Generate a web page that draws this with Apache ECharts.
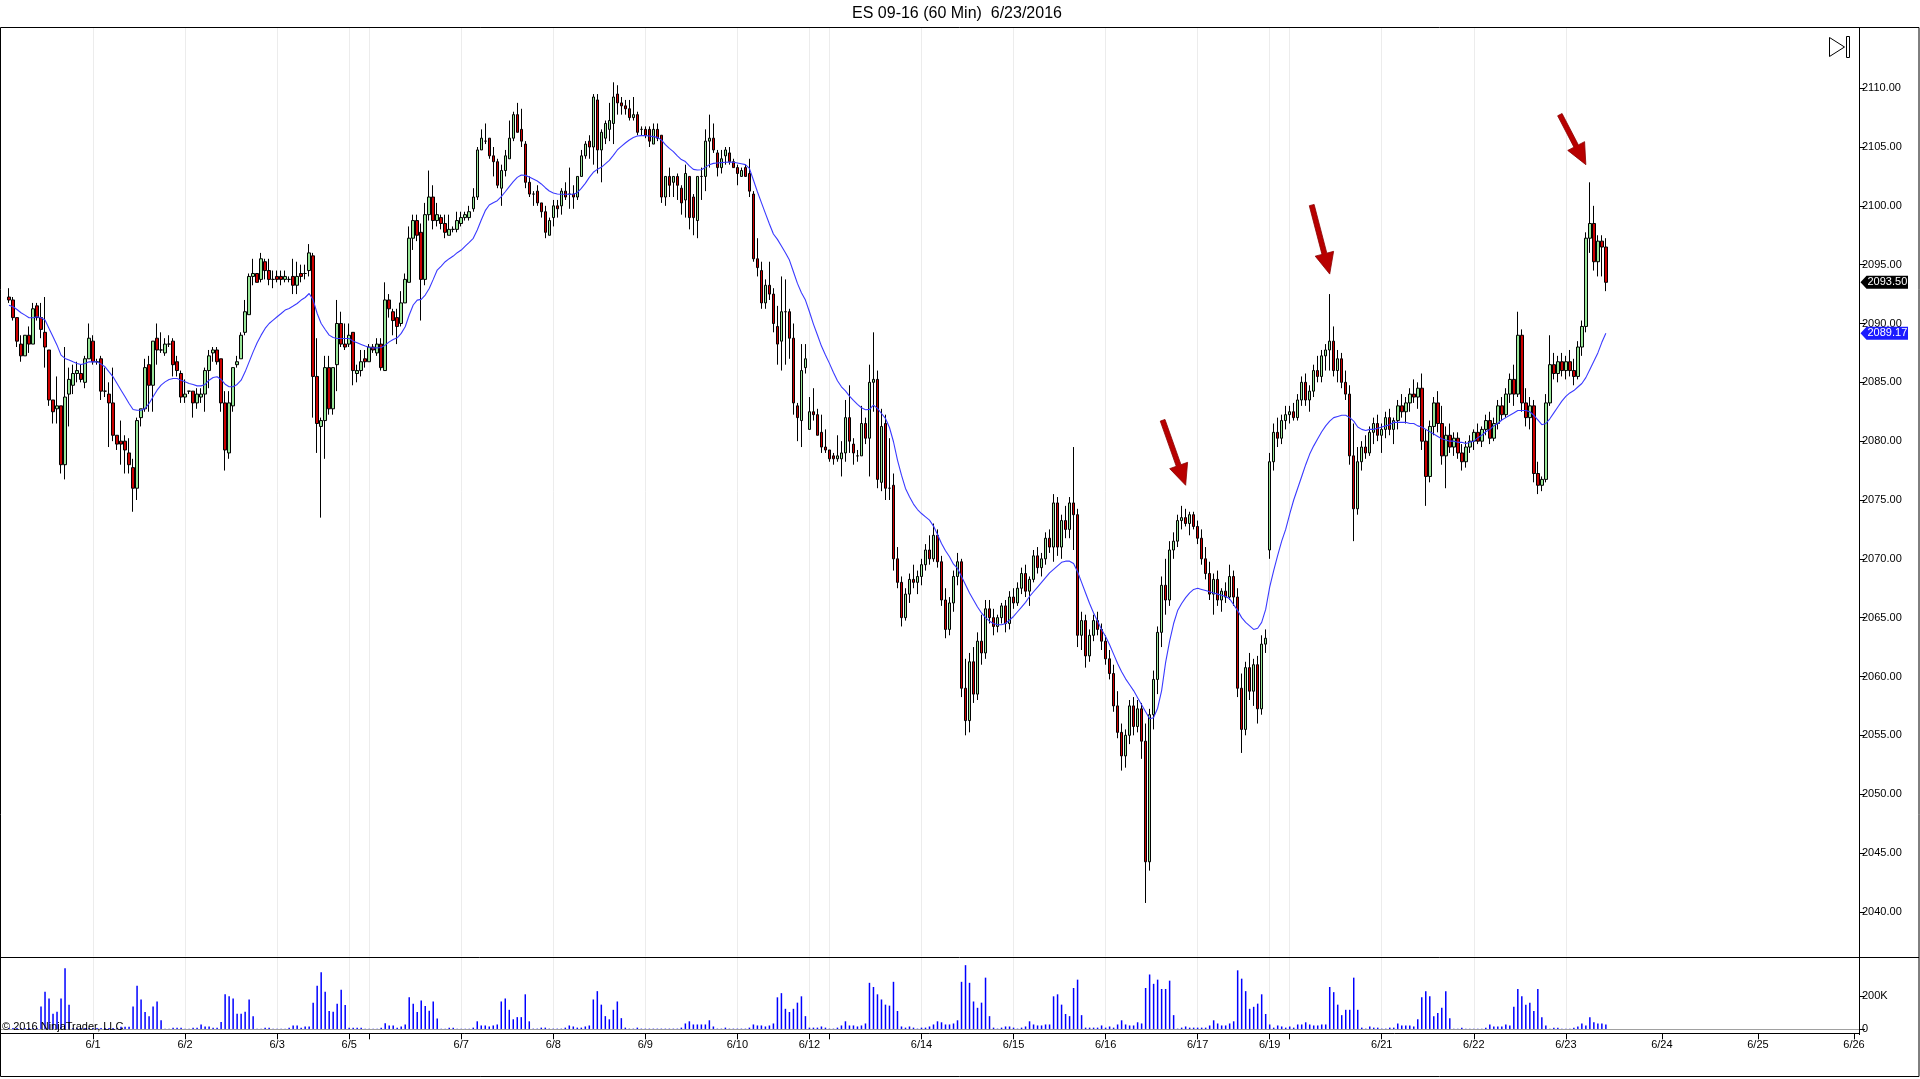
<!DOCTYPE html>
<html><head><meta charset="utf-8">
<script src="https://cdn.jsdelivr.net/npm/echarts@6/dist/echarts.min.js"></script>
<style>html,body{margin:0;padding:0;background:#fff;overflow:hidden}#c{width:1920px;height:1079px}</style>
</head><body><div id="c"></div>
<script>
// ---- categories (hourly slots per day) ----
const dayNames = ['5/31','6/1','6/2','6/3','6/5','6/6','6/7','6/8','6/9','6/10','6/12','6/13','6/14','6/15','6/16','6/17','6/19','6/20','6/21','6/22','6/23','6/24','6/25','6/26'];
const daySlots = [21,23,23,18,5,23,23,23,23,18,5,23,23,23,23,18,5,23,23,23,24,24,24,2];
const labeledDays = ['6/1','6/2','6/3','6/5','6/7','6/8','6/9','6/10','6/12','6/14','6/15','6/16','6/17','6/19','6/21','6/22','6/23','6/24','6/25','6/26'];
const gridDays = ['6/1','6/2','6/3','6/5','6/6','6/7','6/8','6/9','6/10','6/12','6/13','6/14','6/15','6/16','6/17','6/19','6/20','6/21','6/22','6/23'];
const priceTicks = [2040,2045,2050,2055,2060,2065,2070,2075,2080,2085,2090,2095,2100,2105,2110];
const volumeTicks = [0,200000];
const titleText = 'ES 09-16 (60 Min)  6/23/2016';
const lastPrice = 2093.50;
const lastMA = 2089.17;
// annotation arrows: tip at [slot index, price], tail offset in px
const arrowTips = [[294, 2076.25], [330, 2094.2], [394, 2103.5]];
const arrowTails = [[23, 65], [18, 69], [26, 50]];

// ---- OHLC ----
const opens = [
2092.25,2092.0,2090.5,2088.25,2087.25,2089.0,2088.25,2091.5,2090.5,2089.25,
2087.75,2083.5,2082.75,2083.0,2078.0,2084.0,2084.75,2085.75,2085.75,2085.0,
2087.0,2088.5,2086.75,2087.0,2084.25,2084.0,2083.25,2080.5,2080.0,2080.0,
2079.0,2077.75,2076.0,2082.0,2082.75,2086.5,2084.75,2088.75,2087.75,2087.5,
2088.25,2088.5,2086.75,2085.75,2083.75,2084.25,2084.25,2083.25,2083.75,2084.0,
2086.0,2087.5,2087.75,2087.0,2083.25,2079.0,2083.0,2086.5,2087.0,2089.25,
2090.75,2094.0,2094.25,2093.75,2095.25,2094.5,2093.75,2094.0,2094.0,2093.75,
2093.75,2094.0,2093.25,2094.25,2094.25,2094.5,2095.75,2085.5,2081.25,2081.75,
2086.25,2082.75,2086.5,2090.0,2088.25,2088.25,2089.25,2085.75,2086.0,2087.0,
2086.75,2088.0,2087.5,2088.25,2086.0,2092.0,2091.0,2090.5,2090.0,2091.75,
2093.5,2097.25,2098.75,2097.75,2093.75,2099.25,2100.75,2098.75,2099.0,2098.5,
2097.5,2098.0,2098.0,2098.5,2099.0,2099.0,2099.75,2100.75,2104.75,2105.5,
2105.75,2104.25,2103.75,2101.5,2103.0,2104.0,2105.75,2107.75,2106.5,2105.25,
2102.0,2101.0,2101.25,2100.25,2099.5,2097.5,2099.0,2100.0,2100.0,2101.25,
2101.0,2101.0,2100.75,2102.5,2104.25,2105.5,2105.0,2109.0,2104.75,2105.75,
2106.5,2107.0,2109.5,2108.75,2108.5,2108.25,2107.5,2107.75,2106.5,2106.5,
2106.5,2105.25,2106.5,2106.0,2100.75,2102.5,2102.0,2102.5,2101.5,2100.5,
2102.5,2100.75,2098.75,2102.5,2102.5,2105.5,2105.75,2104.5,2103.25,2104.25,
2104.5,2103.75,2103.25,2102.5,2103.25,2102.75,2101.0,2095.5,2094.5,2091.75,
2093.25,2092.5,2089.75,2088.5,2091.0,2091.0,2088.75,2083.0,2081.75,2086.25,
2081.0,2082.5,2082.25,2080.75,2079.5,2079.25,2078.75,2078.5,2078.5,2079.0,
2082.0,2079.75,2078.75,2078.75,2081.5,2080.25,2085.0,2085.25,2076.5,2081.5,
2076.0,2076.25,
2070.0,2068.0,2065.0,2067.0,2068.25,2068.0,2068.5,2069.5,2070.75,2070.0,
2072.0,2069.75,2066.5,2064.0,2066.25,2068.5,2069.75,2059.0,2056.25,2061.25,
2058.5,2063.0,2062.0,2065.75,2065.0,2064.25,2065.0,2066.0,2064.5,2066.75,
2066.25,2067.5,2068.75,2067.25,2068.25,2070.25,2069.25,2070.0,2071.75,2071.0,
2074.75,2071.0,2073.25,2072.5,2074.75,2073.75,2063.5,2064.75,2061.75,2063.5,
2064.75,2064.0,2063.0,2061.5,2060.25,2057.5,2055.25,2053.25,2055.0,2057.5,
2055.75,2057.25,2054.5,2044.25,2056.75,2059.75,2063.75,2067.75,2066.5,2070.75,
2071.5,2073.25,2073.5,2073.0,2073.75,2072.75,2071.75,2070.0,2068.75,2067.0,
2068.25,2066.5,2067.25,2066.75,2068.5,2066.75,2059.0,2055.5,2060.75,2058.75,
2061.0,2057.25,2062.75,2070.75,2078.25,2080.75,2080.25,2081.75,2082.25,2082.5,
2082.0,2083.5,2085.0,2083.5,2084.25,2086.0,2085.5,2087.25,2087.75,2088.5,
2086.0,2087.0,2085.0,2084.0,2078.75,2074.25,2078.25,2079.5,2079.0,2080.75,
2081.5,2080.5,2081.0,2082.0,2081.0,2081.75,2083.0,2082.5,2083.25,2084.0,
2083.75,2084.5,2080.0,2077.0,2081.25,2083.25,2081.5,2078.75,2080.5,2079.5,
2080.25,2079.0,2078.25,2079.5,2080.0,2080.75,2080.0,2081.0,2081.75,2080.25,
2081.5,2083.0,2082.25,2084.0,2085.25,2084.0,2089.0,2083.25,2082.0,2083.0,
2077.25,2076.25,2076.75,2083.25,2086.5,2085.75,2086.75,2086.0,2086.75,2086.0,
2085.5,2088.0,2089.75,2097.25,2098.5,2095.25,2097.0,2096.5];
const highs = [
2093.0,2092.25,2090.5,2089.0,2089.0,2089.75,2091.75,2091.75,2091.75,2092.25,
2087.75,2083.5,2085.5,2083.0,2088.0,2086.25,2086.5,2086.75,2086.5,2087.25,
2090.0,2089.0,2087.0,2087.25,2086.25,2085.0,2086.25,2080.5,2081.75,2080.5,
2080.25,2078.5,2082.0,2082.75,2087.0,2087.25,2088.5,2090.0,2089.25,2088.75,
2089.0,2088.75,2087.25,2086.0,2085.25,2084.25,2084.25,2084.5,2084.5,2086.25,
2087.75,2088.0,2088.0,2087.0,2084.25,2084.25,2086.25,2087.25,2089.25,2092.0,
2094.25,2095.5,2094.25,2096.0,2095.5,2095.5,2094.5,2094.5,2094.5,2094.5,
2094.0,2095.5,2095.25,2095.0,2095.0,2096.75,2096.0,2088.75,2082.0,2087.25,
2087.25,2086.25,2092.0,2091.0,2090.0,2090.0,2089.25,2086.5,2087.75,2087.75,
2088.25,2088.25,2088.75,2088.75,2093.5,2092.5,2091.25,2091.25,2092.75,2094.25,
2098.25,2099.25,2099.25,2098.5,2100.25,2103.0,2101.75,2100.25,2099.25,2099.25,
2099.25,2098.25,2099.5,2099.5,2099.5,2100.0,2101.5,2105.0,2106.5,2107.0,
2105.75,2105.0,2104.0,2103.5,2104.75,2107.25,2108.0,2108.75,2108.25,2105.5,
2102.5,2101.25,2101.75,2100.25,2100.0,2099.0,2100.5,2100.5,2101.5,2102.0,
2103.25,2101.75,2102.5,2104.75,2105.5,2106.0,2109.5,2109.5,2106.5,2107.25,
2108.75,2110.5,2110.25,2109.25,2109.0,2109.0,2109.25,2108.0,2106.75,2106.75,
2106.75,2107.0,2107.0,2106.0,2102.5,2103.25,2102.5,2102.75,2101.75,2103.5,
2102.5,2101.0,2102.5,2103.25,2106.5,2107.75,2107.0,2104.75,2104.75,2105.0,
2105.0,2104.0,2103.5,2103.25,2103.5,2104.0,2101.25,2097.25,2095.25,2093.75,
2095.25,2093.0,2091.5,2094.0,2093.75,2091.25,2090.0,2083.25,2088.25,2088.25,
2083.75,2084.5,2082.75,2082.25,2081.0,2079.25,2079.0,2080.5,2080.0,2083.5,
2084.75,2080.25,2079.25,2083.0,2082.0,2086.5,2089.25,2086.0,2082.75,2082.25,
2080.25,2077.25,
2071.0,2068.5,2067.5,2068.75,2069.5,2069.0,2070.0,2071.25,2072.0,2073.0,
2072.5,2070.25,2067.5,2066.75,2069.0,2070.5,2070.0,2061.5,2062.0,2062.5,
2063.75,2065.25,2066.5,2066.5,2065.75,2065.25,2066.25,2066.5,2067.25,2067.5,
2068.0,2069.25,2069.5,2068.5,2070.75,2071.0,2070.5,2072.25,2072.5,2075.5,
2075.25,2073.75,2074.5,2075.25,2079.5,2074.25,2065.5,2065.25,2064.0,2065.25,
2065.5,2064.5,2063.5,2062.25,2061.0,2058.75,2056.0,2055.5,2058.0,2058.25,
2058.0,2057.75,2056.0,2057.25,2060.5,2064.25,2068.5,2070.0,2071.5,2072.25,
2073.75,2074.5,2074.25,2074.0,2074.0,2073.25,2072.5,2071.0,2069.75,2068.75,
2069.0,2067.5,2068.0,2069.5,2069.0,2067.5,2060.25,2061.25,2062.0,2061.5,
2061.75,2063.5,2064.0,2079.0,2081.5,2082.0,2082.25,2083.0,2083.0,2083.25,
2084.0,2085.5,2085.75,2084.75,2086.5,2087.25,2087.75,2088.25,2092.5,2089.75,
2087.75,2087.5,2086.0,2084.75,2081.5,2079.5,2080.0,2080.5,2081.25,2082.0,
2082.25,2081.5,2082.5,2082.75,2082.0,2083.5,2084.0,2083.75,2084.5,2085.25,
2085.0,2085.75,2081.0,2081.75,2083.75,2084.25,2083.0,2081.25,2081.5,2080.75,
2080.75,2079.75,2080.0,2080.5,2081.0,2081.5,2081.25,2082.25,2082.5,2082.0,
2083.5,2083.75,2084.5,2085.75,2086.5,2091.0,2089.5,2084.5,2083.75,2083.5,
2078.25,2077.0,2084.0,2089.0,2087.5,2087.25,2087.5,2087.25,2087.75,2087.0,
2088.5,2090.25,2097.75,2102.0,2100.0,2097.5,2097.5,2097.25];
const lows = [
2091.75,2090.25,2088.0,2086.75,2087.25,2087.5,2088.25,2090.25,2088.75,2086.25,
2083.0,2081.5,2081.5,2077.25,2076.75,2081.25,2084.0,2085.0,2085.0,2084.5,
2087.0,2086.5,2086.5,2083.5,2083.75,2079.5,2080.0,2079.25,2078.0,2077.25,
2077.25,2074.0,2075.0,2081.25,2082.5,2082.5,2082.5,2086.5,2087.5,2087.25,
2088.0,2085.5,2085.5,2083.25,2083.25,2084.0,2082.0,2082.75,2083.25,2082.5,
2084.5,2086.75,2086.5,2082.5,2077.5,2078.5,2082.5,2086.25,2087.0,2089.0,
2090.75,2093.25,2093.5,2093.5,2093.75,2093.25,2093.0,2093.5,2093.25,2093.5,
2093.5,2092.5,2092.5,2093.5,2093.75,2094.0,2082.0,2079.0,2073.5,2078.5,
2082.25,2082.25,2084.25,2088.0,2087.75,2088.0,2084.75,2085.0,2085.5,2086.25,
2086.75,2087.5,2087.25,2086.0,2086.0,2090.5,2089.0,2088.25,2089.75,2091.75,
2093.5,2096.25,2097.0,2090.25,2093.25,2098.75,2098.0,2098.25,2098.0,2097.25,
2097.5,2097.75,2097.75,2098.25,2098.75,2098.75,2099.5,2100.5,2104.75,2105.25,
2104.0,2102.5,2101.5,2100.0,2102.5,2104.0,2105.5,2106.25,2105.0,2101.5,
2100.75,2100.0,2100.0,2099.0,2097.25,2097.5,2098.25,2099.0,2099.25,2100.5,
2099.75,2099.75,2100.5,2102.5,2104.0,2104.0,2103.5,2102.75,2102.0,2105.25,
2105.5,2105.25,2107.75,2107.75,2107.75,2107.25,2107.25,2106.0,2106.0,2105.75,
2105.0,2105.25,2105.5,2100.25,2100.0,2100.75,2100.75,2100.5,2099.25,2099.0,
2098.0,2097.5,2097.25,2100.5,2101.25,2103.25,2104.5,2102.5,2102.75,2103.5,
2103.5,2103.25,2101.75,2102.5,2102.5,2100.75,2095.25,2094.0,2091.25,2091.25,
2092.0,2089.25,2086.5,2086.0,2086.5,2087.0,2082.25,2080.0,2079.5,2085.75,
2081.0,2081.75,2080.5,2079.0,2079.0,2078.25,2078.0,2078.25,2077.0,2078.25,
2079.0,2078.0,2078.25,2078.75,2079.75,2077.0,2082.5,2076.0,2075.75,2075.0,
2075.0,2069.0,
2067.5,2064.25,2064.75,2066.25,2067.5,2067.0,2067.75,2069.0,2069.5,2069.75,
2069.25,2066.0,2063.25,2063.5,2065.5,2067.75,2058.25,2055.0,2055.25,2057.75,
2058.0,2061.0,2061.5,2064.5,2063.5,2063.75,2064.5,2063.75,2064.0,2065.75,
2066.0,2067.0,2066.75,2066.0,2068.0,2068.75,2068.5,2069.5,2070.5,2069.75,
2070.25,2070.0,2071.75,2071.75,2070.75,2062.5,2062.25,2060.75,2061.25,2063.0,
2063.5,2062.25,2061.0,2059.75,2057.0,2054.75,2052.0,2052.25,2054.25,2055.0,
2055.25,2053.0,2040.75,2043.5,2055.5,2058.5,2062.5,2065.25,2066.0,2070.0,
2071.0,2072.5,2072.75,2072.0,2072.5,2071.25,2069.5,2068.25,2066.5,2065.25,
2066.0,2065.5,2066.25,2066.5,2066.0,2058.25,2053.5,2055.0,2058.0,2057.5,
2056.0,2056.75,2062.0,2070.0,2077.5,2079.5,2079.75,2081.0,2081.5,2081.75,
2081.75,2083.0,2083.0,2082.5,2083.75,2085.0,2085.0,2086.0,2086.0,2085.5,
2085.0,2084.5,2083.5,2078.0,2071.5,2073.75,2077.5,2078.5,2078.75,2079.75,
2080.0,2079.0,2080.25,2080.5,2079.75,2081.0,2082.0,2081.5,2082.5,2083.25,
2082.75,2079.25,2074.5,2076.5,2080.5,2080.75,2078.0,2076.0,2079.0,2078.75,
2078.5,2077.5,2077.75,2079.0,2079.25,2079.75,2079.5,2080.5,2079.75,2080.0,
2081.0,2081.75,2082.0,2083.25,2083.0,2083.75,2082.5,2081.25,2081.0,2076.5,
2075.5,2075.75,2076.5,2083.0,2085.25,2085.0,2085.5,2085.25,2085.5,2084.75,
2085.25,2087.25,2089.25,2096.0,2094.5,2094.0,2094.0,2092.75];
const closes = [
2092.0,2090.5,2088.5,2087.25,2089.0,2088.25,2091.25,2090.5,2089.5,2088.0,
2083.5,2082.5,2083.0,2078.0,2083.75,2085.25,2085.75,2086.0,2085.25,2087.0,
2088.75,2086.75,2086.75,2084.25,2084.25,2083.25,2080.5,2079.75,2079.75,2079.25,
2078.0,2076.0,2081.75,2082.75,2086.25,2084.75,2088.5,2087.75,2087.75,2088.25,
2088.25,2086.5,2086.0,2083.75,2084.0,2084.25,2083.25,2084.0,2084.0,2086.0,
2087.25,2087.75,2086.75,2083.25,2079.25,2083.25,2086.25,2086.75,2089.0,2091.0,
2094.0,2094.25,2093.5,2095.5,2094.5,2093.75,2093.75,2093.75,2093.75,2094.0,
2093.75,2093.25,2094.0,2094.0,2094.25,2096.0,2085.5,2081.5,2081.75,2086.25,
2082.75,2086.25,2090.0,2088.25,2088.0,2089.0,2086.0,2086.0,2086.75,2086.75,
2088.0,2087.75,2088.25,2086.25,2092.0,2091.25,2090.25,2089.75,2091.75,2093.75,
2097.25,2098.75,2097.5,2093.75,2099.25,2100.75,2098.75,2099.25,2098.5,2097.75,
2098.0,2098.0,2098.75,2099.0,2099.25,2099.5,2100.75,2104.75,2105.75,2105.5,
2104.25,2103.75,2101.75,2103.0,2104.25,2105.75,2107.75,2106.25,2105.5,2102.0,
2101.0,2101.0,2100.25,2099.5,2097.75,2098.75,2100.0,2099.75,2101.25,2100.75,
2101.0,2100.75,2102.5,2104.25,2105.25,2105.0,2109.25,2104.75,2106.25,2107.0,
2107.25,2109.25,2108.75,2108.5,2108.25,2107.5,2107.75,2106.25,2106.5,2106.0,
2105.5,2106.5,2105.75,2100.75,2102.5,2101.75,2102.5,2101.75,2100.25,2102.75,
2099.0,2099.0,2102.5,2102.5,2105.5,2105.75,2104.75,2103.25,2104.0,2104.75,
2103.75,2103.25,2102.75,2103.0,2102.5,2101.25,2095.5,2094.75,2091.75,2093.25,
2092.5,2090.0,2088.25,2091.0,2091.0,2088.75,2083.25,2082.0,2086.0,2087.0,
2082.5,2082.25,2080.5,2079.5,2079.25,2078.5,2078.5,2078.75,2079.0,2082.0,
2080.0,2079.0,2078.75,2081.5,2080.25,2085.0,2085.25,2076.75,2081.25,2076.0,
2076.0,2070.0,
2068.0,2065.0,2067.0,2068.25,2068.0,2068.5,2069.5,2070.75,2070.0,2072.0,
2069.75,2066.5,2064.0,2066.25,2068.5,2069.75,2059.0,2056.25,2061.25,2058.5,
2063.0,2062.0,2065.75,2065.0,2064.25,2065.0,2066.0,2064.5,2066.75,2066.25,
2067.5,2068.75,2067.25,2068.25,2070.25,2069.25,2070.0,2071.75,2071.0,2074.75,
2071.0,2073.25,2072.5,2074.75,2073.75,2063.5,2064.75,2061.75,2063.5,2064.75,
2064.0,2063.0,2061.5,2060.25,2057.5,2055.25,2053.25,2055.0,2057.5,2055.75,
2057.25,2054.5,2044.25,2056.75,2059.75,2063.75,2067.75,2066.5,2070.75,2071.5,
2073.25,2073.5,2073.0,2073.75,2072.75,2071.75,2070.0,2068.75,2067.0,2068.25,
2066.5,2067.25,2066.75,2068.5,2066.75,2059.0,2055.5,2060.75,2058.75,2061.0,
2057.25,2062.75,2063.25,2078.25,2080.75,2080.25,2081.75,2082.25,2082.5,2082.0,
2083.5,2085.0,2083.5,2084.25,2086.0,2085.5,2087.25,2087.75,2088.5,2086.0,
2087.0,2085.0,2084.0,2078.75,2074.25,2078.25,2079.5,2079.0,2080.75,2081.5,
2080.5,2081.0,2082.0,2081.0,2081.75,2083.0,2082.5,2083.25,2084.0,2083.75,
2084.5,2080.0,2077.0,2081.25,2083.25,2081.5,2078.75,2080.5,2079.5,2080.25,
2079.0,2078.25,2079.5,2080.0,2080.75,2080.0,2081.0,2081.75,2080.25,2081.5,
2083.0,2082.25,2084.0,2085.25,2084.0,2089.0,2083.25,2082.0,2083.0,2077.25,
2076.25,2076.75,2083.25,2086.5,2085.75,2086.75,2086.0,2086.75,2086.0,2085.5,
2088.0,2089.75,2097.25,2098.5,2095.25,2097.0,2096.5,2093.5];

// ---- moving average (blue line) ----
const maValues = [
2091.56,2091.42,2091.19,2090.91,2090.71,2090.49,2090.49,2090.57,2090.49,2090.29,
2089.58,2088.87,2088.16,2087.31,2087.03,2086.89,2086.74,2086.60,2086.52,2086.60,
2086.74,2086.74,2086.74,2086.55,2086.32,2085.89,2085.47,2084.90,2084.33,2083.77,
2083.20,2082.69,2082.63,2082.63,2082.78,2083.20,2083.77,2084.33,2084.76,2085.04,
2085.24,2085.33,2085.33,2085.18,2085.04,2084.90,2084.82,2084.70,2084.70,2084.82,
2085.18,2085.41,2085.47,2085.24,2084.84,2084.62,2084.62,2084.82,2085.18,2085.89,
2086.74,2087.59,2088.36,2089.01,2089.58,2090.00,2090.29,2090.57,2090.85,2091.14,
2091.28,2091.48,2091.70,2091.99,2092.21,2092.55,2091.99,2090.85,2090.00,2089.49,
2089.01,2088.81,2088.73,2088.73,2088.73,2088.73,2088.50,2088.36,2088.22,2088.08,
2087.96,2087.93,2087.93,2087.96,2088.16,2088.44,2088.64,2088.78,2089.16,2089.72,
2090.72,2091.57,2091.99,2092.05,2092.42,2092.98,2093.75,2094.54,2094.88,2095.25,
2095.51,2095.73,2096.02,2096.24,2096.58,2096.90,2097.24,2097.94,2098.79,2099.59,
2100.07,2100.27,2100.44,2100.78,2101.20,2101.63,2102.05,2102.42,2102.62,2102.59,
2102.45,2102.28,2102.11,2101.86,2101.54,2101.26,2101.09,2101.01,2100.98,2100.98,
2100.98,2100.98,2101.12,2101.49,2101.91,2102.42,2102.85,2103.10,2103.27,2103.56,
2103.87,2104.29,2104.75,2105.06,2105.34,2105.60,2105.80,2105.94,2105.97,2105.97,
2105.94,2105.88,2105.82,2105.60,2105.20,2104.89,2104.61,2104.24,2103.93,2103.76,
2103.39,2103.10,2103.05,2103.07,2103.27,2103.50,2103.61,2103.64,2103.67,2103.70,
2103.73,2103.70,2103.64,2103.58,2103.50,2103.19,2102.20,2101.20,2100.27,2099.36,
2098.46,2097.61,2097.15,2096.58,2096.02,2095.39,2094.40,2093.41,2092.62,2091.99,
2091.00,2089.95,2089.02,2088.08,2087.32,2086.61,2085.84,2085.13,2084.62,2084.28,
2083.83,2083.46,2083.12,2082.84,2082.67,2082.70,2083.06,2082.78,2082.35,2081.93,
2081.16,2079.95,2078.39,2077.11,2075.98,2075.27,2074.65,2074.19,2073.85,2073.57,
2073.29,2072.78,2072.07,2071.30,2070.68,2070.17,2069.54,2069.18,
2068.5,2067.8,2067.1,2066.5,2065.9,2065.4,2065.0,2064.7,2064.5,2064.4,
2064.4,2064.5,2064.8,2065.1,2065.5,2065.9,2066.3,2066.8,2067.2,2067.6,
2068.0,2068.4,2068.8,2069.1,2069.4,2069.7,2069.8,2069.8,2069.6,2068.9,
2068.0,2067.1,2066.2,2065.4,2064.7,2064.0,2063.4,2062.7,2061.9,2061.1,
2060.4,2059.8,2059.3,2058.8,2058.2,2057.6,2057.0,2056.4,2056.5,2057.3,
2058.8,2061.2,2063.0,2064.5,2065.6,2066.2,2066.7,2067.1,2067.4,2067.5,
2067.4,2067.3,2067.2,2067.1,2067.0,2066.9,2066.8,2066.6,2066.1,2065.6,
2065.0,2064.6,2064.3,2064.0,2064.1,2064.6,2065.7,2067.6,2069.0,2070.3,
2071.5,2072.5,2073.8,2075.0,2076.0,2077.0,2078.0,2078.9,2079.6,2080.2,
2080.8,2081.3,2081.7,2082.0,2082.1,2082.2,2082.2,2082.0,2081.7,2081.2,
2081.0,2080.9,2081.0,2081.0,2081.1,2081.2,2081.3,2081.4,2081.6,2081.6,
2081.6,2081.6,2081.5,2081.5,2081.3,2081.2,2081.0,2080.8,2080.6,2080.4,
2080.2,2080.1,2080.0,2080.0,2079.9,2079.9,2079.8,2079.9,2080.0,2080.3,
2080.5,2080.8,2081.0,2081.3,2081.5,2081.8,2082.0,2082.2,2082.4,2082.6,
2082.6,2082.6,2082.5,2082.2,2081.8,2081.4,2081.5,2081.9,2082.4,2082.9,
2083.4,2083.8,2084.1,2084.3,2084.6,2084.9,2085.4,2086.1,2086.8,2087.5,
2088.4,2089.17];

// ---- volume ----
const volumes = [
8000,8000,8000,8000,8000,8000,8000,8000,137000,225000,185000,94000,106000,185000,367000,148000,8000,8000,8000,8000,8000,
8000,8000,8000,8000,8000,8000,8000,15000,15000,15000,137000,262000,179000,104000,79000,137000,167000,54000,4000,4000,10000,10000,10000,
4000,4000,10000,10000,29000,17000,17000,10000,10000,44000,210000,198000,185000,94000,94000,106000,179000,79000,4000,4000,10000,10000,4000,
4000,4000,4000,10000,23000,23000,10000,17000,17000,160000,262000,342000,225000,110000,106000,154000,237000,146000,
10000,10000,10000,10000,4000,
4000,4000,4000,10000,37000,23000,23000,10000,17000,29000,192000,154000,104000,173000,140000,112000,167000,65000,4000,4000,10000,10000,4000,
4000,4000,4000,10000,48000,23000,23000,17000,23000,29000,167000,185000,117000,60000,73000,73000,210000,48000,4000,4000,10000,10000,4000,
4000,4000,4000,10000,23000,17000,10000,10000,17000,23000,179000,229000,148000,79000,60000,117000,167000,67000,10000,4000,4000,10000,4000,
4000,4000,4000,4000,4000,4000,4000,4000,4000,10000,35000,48000,29000,29000,29000,29000,54000,17000,4000,4000,10000,4000,4000,
4000,4000,4000,10000,29000,23000,23000,17000,23000,35000,192000,217000,123000,104000,123000,160000,198000,79000,
10000,10000,10000,17000,10000,
4000,4000,10000,23000,48000,23000,23000,17000,23000,35000,279000,254000,210000,179000,148000,142000,285000,110000,17000,10000,17000,10000,4000,
10000,10000,17000,29000,48000,42000,29000,29000,35000,54000,285000,385000,279000,167000,129000,160000,310000,79000,10000,4000,10000,17000,17000,
10000,4000,10000,17000,48000,29000,23000,23000,29000,29000,198000,210000,148000,92000,79000,248000,298000,85000,10000,10000,10000,10000,23000,
10000,17000,10000,29000,54000,29000,23000,23000,42000,35000,248000,329000,273000,298000,242000,242000,292000,85000,4000,10000,17000,10000,10000,
10000,10000,10000,23000,54000,35000,23000,23000,35000,48000,354000,304000,229000,123000,135000,154000,210000,92000,
29000,10000,23000,17000,10000,
17000,10000,29000,29000,42000,29000,23000,23000,29000,29000,254000,223000,148000,85000,117000,117000,310000,117000,10000,4000,17000,10000,10000,
4000,4000,10000,10000,35000,23000,23000,23000,17000,60000,192000,229000,198000,79000,98000,129000,229000,67000,4000,4000,10000,4000,4000,
4000,4000,4000,10000,29000,17000,17000,17000,29000,23000,135000,242000,198000,148000,160000,110000,242000,73000,23000,4000,10000,10000,4000,
4000,4000,10000,17000,35000,23000,73000,42000,35000,35000,29000];

// ---- build categories ----
const cats = [];
const dayAt = {};
dayNames.forEach((d, k) => { dayAt[cats.length] = d; for (let s = 0; s < daySlots[k]; s++) cats.push(d + '#' + s); });
const labeledSet = new Set(labeledDays);
const gridSet = new Set(gridDays);
const candleData = cats.map((c, i) => i < opens.length ? [opens[i], closes[i], lows[i], highs[i]] : '-');
const maData = cats.map((c, i) => i < maValues.length ? maValues[i] : '-');
const volData = cats.map((c, i) => i < volumes.length ? volumes[i] : '-');

const FONT = 'Arial, "Liberation Sans", sans-serif';
const gridLineFn = (idx) => gridSet.has(dayAt[idx]);
const tickFn = (idx) => dayAt[idx] !== undefined && dayAt[idx] !== '5/31';
const labelFn = (idx) => labeledSet.has(dayAt[idx]);

const chart = echarts.init(document.getElementById('c'), null, { renderer: 'canvas' });
const splitLineCfg = { show: true, alignWithLabel: true, interval: gridLineFn, lineStyle: { color: '#ececec', width: 1 } };
chart.setOption({
  animation: false,
  backgroundColor: '#ffffff',
  grid: [
    { left: 7, right: 60, top: 27, height: 929.5 },
    { left: 7, right: 60, top: 958, height: 71.3 }
  ],
  xAxis: [
    { gridIndex: 0, type: 'category', data: cats, boundaryGap: true,
      axisLine: { show: false }, axisTick: { show: false }, axisLabel: { show: false }, splitLine: splitLineCfg },
    { gridIndex: 1, type: 'category', data: cats, boundaryGap: true,
      axisLine: { show: false }, axisTick: { show: false }, axisLabel: { show: false }, splitLine: splitLineCfg },
    { gridIndex: 1, type: 'category', data: cats, boundaryGap: true, position: 'bottom', offset: 4,
      axisLine: { show: false },
      axisTick: { show: true, alignWithLabel: true, interval: tickFn, length: 6, lineStyle: { color: '#000' } },
      axisLabel: { show: true, interval: labelFn, formatter: (v) => v.split('#')[0], color: '#000', fontSize: 11, fontFamily: FONT, margin: 6 },
      splitLine: { show: false } }
  ],
  yAxis: [
    { gridIndex: 0, type: 'value', position: 'right', min: 2036.2, max: 2115.2, scale: true,
      axisLine: { show: false },
      axisTick: { show: true, length: 5, customValues: priceTicks, lineStyle: { color: '#000' } },
      axisLabel: { customValues: priceTicks, formatter: (v) => v.toFixed(2), color: '#000', fontSize: 11, fontFamily: FONT, margin: 2 },
      splitLine: { show: false } },
    { gridIndex: 1, type: 'value', position: 'right', min: 0, max: 428000,
      axisLine: { show: false },
      axisTick: { show: true, length: 5, customValues: volumeTicks, lineStyle: { color: '#000' } },
      axisLabel: { customValues: volumeTicks, formatter: (v) => v === 0 ? '0' : (v / 1000) + 'K', color: '#000', fontSize: 11, fontFamily: FONT, margin: 2 },
      splitLine: { show: false } }
  ],
  series: [
    { type: 'candlestick', xAxisIndex: 0, yAxisIndex: 0, data: candleData, barWidth: 3,
      itemStyle: { color: '#98e698', color0: '#cc0000', borderColor: '#000', borderColor0: '#000', borderWidth: 1 } },
    { type: 'line', xAxisIndex: 0, yAxisIndex: 0, data: maData, symbol: 'none', smooth: false,
      lineStyle: { color: '#3a3aff', width: 1.1 }, z: 3 },
    { type: 'bar', xAxisIndex: 1, yAxisIndex: 1, data: volData, barWidth: 1.5,
      itemStyle: { color: '#0000ff' } }
  ]
});

// ---- frame, price markers, decorations ----
const yLast = chart.convertToPixel({ yAxisIndex: 0 }, lastPrice);
const yMA = chart.convertToPixel({ yAxisIndex: 0 }, lastMA);
const yVol0 = chart.convertToPixel({ yAxisIndex: 1 }, 0);
const axisX = 1859.5;
function tag(y, fill, text) {
  return [
    { type: 'polygon', shape: { points: [[axisX + 1, y], [axisX + 7, y - 6.5], [1908, y - 6.5], [1908, y + 6.5], [axisX + 7, y + 6.5]] },
      style: { fill: fill }, z: 100 },
    { type: 'text', x: axisX + 8, y: y, z: 101,
      style: { text: text, fill: '#fff', font: '11px ' + FONT, align: 'left', verticalAlign: 'middle', textAlign: 'left', textVerticalAlign: 'middle' } }
  ];
}
function arrow(tip, tail) {
  const tx = tip[0], ty = tip[1];
  const sx = tx - tail[0], sy = ty - tail[1];
  const len = Math.hypot(tail[0], tail[1]);
  const ux = tail[0] / len, uy = tail[1] / len;
  const nx = -uy, ny = ux;
  const headLen = 21, headW = 19, shaftW = 5;
  const bx = tx - ux * headLen, by = ty - uy * headLen;
  return { type: 'polygon', z: 100, shape: { points: [
      [sx + nx * shaftW / 2, sy + ny * shaftW / 2],
      [bx + nx * shaftW / 2, by + ny * shaftW / 2],
      [bx + nx * headW / 2, by + ny * headW / 2],
      [tx, ty],
      [bx - nx * headW / 2, by - ny * headW / 2],
      [bx - nx * shaftW / 2, by - ny * shaftW / 2],
      [sx - nx * shaftW / 2, sy - ny * shaftW / 2]
    ] }, style: { fill: '#b80000', stroke: '#8a0000', lineWidth: 0.8 } };
}
const arrowEls = arrowTips.map((t, k) => arrow(chart.convertToPixel({ xAxisIndex: 0, yAxisIndex: 0 }, t), arrowTails[k]));
chart.setOption({
  graphic: [
    { type: 'text', x: 957, y: 13.5, z: 100,
      style: { text: titleText, fill: '#000', font: '16px ' + FONT, align: 'center', verticalAlign: 'middle', textAlign: 'center', textVerticalAlign: 'middle' } },
    { type: 'rect', shape: { x: 0.5, y: 27.5, width: 1918.5, height: 1049 }, style: { fill: 'none', stroke: '#000', lineWidth: 1 }, z: 90 },
    { type: 'line', shape: { x1: 0, y1: 957.5, x2: 1919, y2: 957.5 }, style: { stroke: '#000', lineWidth: 1 }, z: 90 },
    { type: 'line', shape: { x1: axisX, y1: 27, x2: axisX, y2: 1035 }, style: { stroke: '#000', lineWidth: 1 }, z: 90 },
    { type: 'line', shape: { x1: 0, y1: 1033.5, x2: axisX, y2: 1033.5 }, style: { stroke: '#000', lineWidth: 1 }, z: 90 },
    { type: 'line', shape: { x1: 0, y1: Math.round(yVol0) + 0.5, x2: axisX, y2: Math.round(yVol0) + 0.5 }, style: { stroke: '#a0a0a0', lineWidth: 1 }, z: 50 },
    ...tag(yLast, '#000000', lastPrice.toFixed(2)),
    ...tag(yMA, '#1a1aff', lastMA.toFixed(2)),
    ...arrowEls,
    { type: 'polygon', shape: { points: [[1829.5, 37.5], [1844.5, 47], [1829.5, 56.5]] }, style: { fill: 'none', stroke: '#000', lineWidth: 1 }, z: 100 },
    { type: 'rect', shape: { x: 1846.5, y: 36.5, width: 3, height: 21 }, style: { fill: 'none', stroke: '#000', lineWidth: 1 }, z: 100 },
    { type: 'text', x: 2, y: 1027, z: 100,
      style: { text: '\u00a9 2016 NinjaTrader, LLC', fill: '#000', font: '11px ' + FONT, align: 'left', verticalAlign: 'middle', textAlign: 'left', textVerticalAlign: 'middle' } }
  ]
});
</script>
</body></html>
